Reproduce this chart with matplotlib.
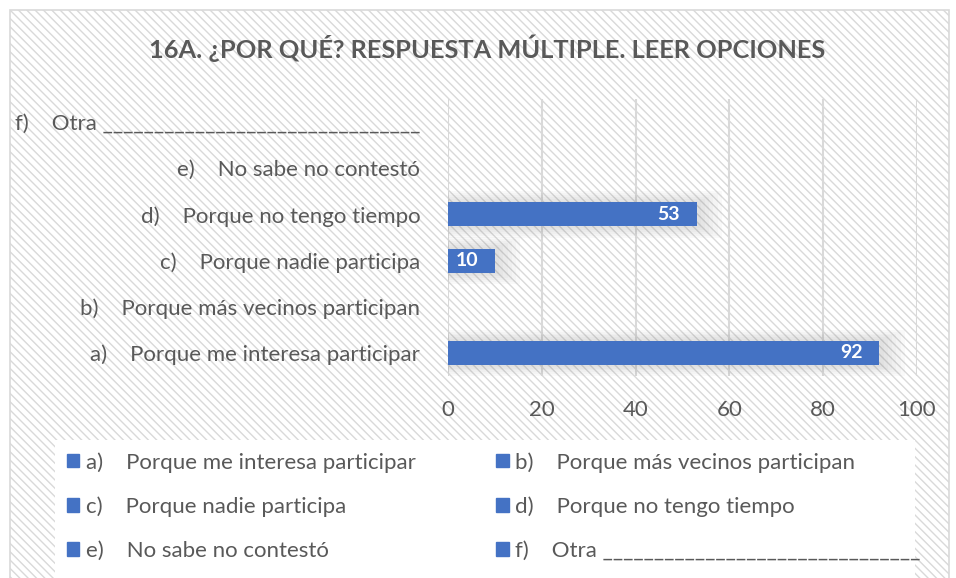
import matplotlib
matplotlib.use("Agg")
import matplotlib.pyplot as plt
from matplotlib.patches import Rectangle, Patch

plt.rcParams['font.family'] = ['Lato', 'DejaVu Sans']
plt.rcParams['hatch.linewidth'] = 1.0
plt.rcParams['hatch.color'] = '#F3F3F3'

title = "16A. ¿POR QUÉ? RESPUESTA MÚLTIPLE. LEER OPCIONES"
categories = [
    "a)    Porque me interesa participar",
    "b)    Porque más vecinos participan",
    "c)    Porque nadie participa",
    "d)    Porque no tengo tiempo",
    "e)    No sabe no contestó",
    "f)    Otra " + "_" * 31,
]
values = [92, 0, 10, 53, 0, 0]
xticks = [0, 20, 40, 60, 80, 100]

BLUE = '#4472C4'
GRAY = '#595959'
FS = 16

fig = plt.figure(figsize=(9.56, 5.78), dpi=100)
fig.patch.set_facecolor('white')

# background with diagonal pattern
bg = fig.add_axes([0, 0, 1, 1], zorder=-10)
bg.set_xlim(0, 956); bg.set_ylim(578, 0); bg.axis('off')
bg.add_patch(Rectangle((10, 10), 939, 580, facecolor='white', edgecolor='#D9D9D9',
                       hatch='\\\\\\\\', linewidth=1.2))
bg.add_patch(Rectangle((55, 440), 860, 150, facecolor='white', edgecolor='none'))

ax = fig.add_axes([448/956, 1-376/578, 469/956, 277/578])
ax.set_facecolor('none')
y = list(range(len(categories)))
h = 0.52

# soft shadow behind bars
for k in range(6):
    pad = 0.9 * (k + 1)
    ax.barh(y, [v + 2*pad if v > 0 else 0 for v in values], left=-pad,
            height=h + 0.08*(k+1), color='#7F7F7F', alpha=0.04, zorder=1, linewidth=0)

bars = ax.barh(y, values, height=h, color=BLUE, zorder=3)
for yi, v in zip(y, values):
    if v > 0:
        ax.text(v - 3.5, yi, str(v), ha='right', va='center', color='white',
                fontsize=14, fontweight='bold', zorder=4)

ax.set_xlim(0, 100)
ax.set_ylim(-0.5, len(categories) - 0.5)
ax.set_xticks(xticks)
ax.set_yticks(y)
ax.set_yticklabels(categories)
ax.grid(axis='x', color='#D9D9D9', linewidth=1.5, zorder=0)
ax.set_axisbelow(True)
for s in ax.spines.values():
    s.set_visible(False)
ax.tick_params(axis='both', length=0, labelcolor=GRAY, labelsize=FS)
ax.tick_params(axis='x', pad=17)
ax.tick_params(axis='y', pad=20)

fig.text(0.51, 1-48/578, title, ha='center', va='center', fontsize=18.3,
         fontweight='bold', color=GRAY)

handles = [Patch(facecolor=BLUE, edgecolor=BLUE) for _ in categories]
order = [0, 2, 4, 1, 3, 5]
leg = fig.legend([handles[i] for i in order], [categories[i] for i in order],
                 ncol=2, loc='upper left', bbox_to_anchor=(67/956, 1-452/578),
                 frameon=False, fontsize=FS, labelcolor=GRAY,
                 borderpad=0, borderaxespad=0,
                 handlelength=0.55, handleheight=0.55, handletextpad=0.3,
                 columnspacing=3.63, labelspacing=1.07)

fig.savefig('out.png', dpi=100)
